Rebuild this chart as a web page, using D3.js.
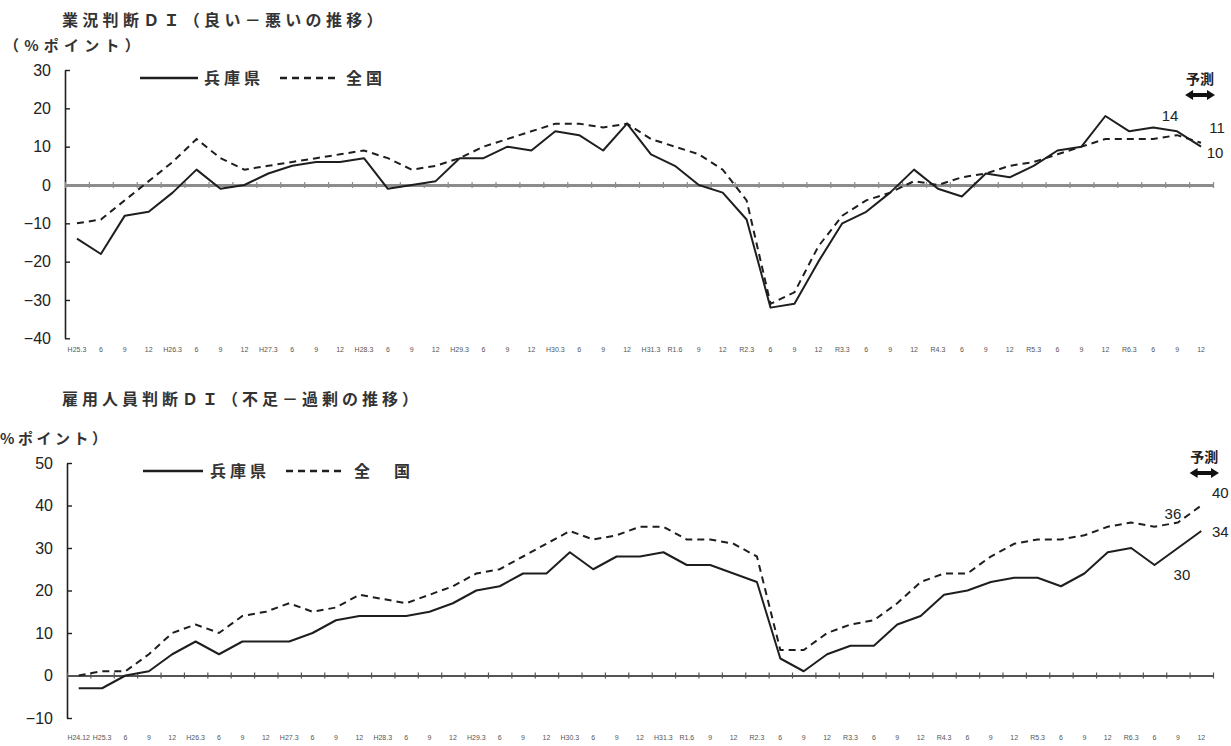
<!DOCTYPE html>
<html><head><meta charset="utf-8">
<script src="https://cdn.jsdelivr.net/npm/d3@7"></script>
<style>
body{margin:0;background:#fff;}
svg{display:block;}
</style></head><body>
<svg id="chart" width="1231" height="746"></svg>
<script>
// ---- data ----
const categoriesTop = ["H25.3","6","9","12","H26.3","6","9","12","H27.3","6","9","12",
  "H28.3","6","9","12","H29.3","6","9","12","H30.3","6","9","12",
  "H31.3","R1.6","9","12","R2.3","6","9","12","R3.3","6","9","12",
  "R4.3","6","9","12","R5.3","6","9","12","R6.3","6","9","12"];
const categoriesBottom = ["H24.12","H25.3","6","9","12","H26.3","6","9","12","H27.3","6","9","12",
  "H28.3","6","9","12","H29.3","6","9","12","H30.3","6","9","12",
  "H31.3","R1.6","9","12","R2.3","6","9","12","R3.3","6","9","12",
  "R4.3","6","9","12","R5.3","6","9","12","R6.3","6","9","12"];
const bizHyogo = [-14,-18,-8,-7,-2,4,-1,0,3,5, 6,6,7,-1,0,1,7,7,10,9,
  14,13,9,16,8,5,0,-2,-9,-32, -31,-20,-10,-7,-2,4,-1,-3,3,2, 5,9,10,18,14,15,14,10];
const bizNational = [-10,-9,-4,1,6,12,7,4,5,6, 7,8,9,7,4,5,7,10,12,14,
  16,16,15,16,12,10,8,4,-4,-31, -28,-16,-8,-4,-2,1,0,2,3,5, 6,8,10,12,12,12,13,11];
const empHyogo = [-3,-3,0,1,5,8,5,8,8,8, 10,13,14,14,14,15,17,20,21,24,
  24,29,25,28,28,29,26,26,24,22, 4,1,5,7,7,12,14,19,20,22, 23,23,21,24,29,30,26,30,34];
const empNational = [0,1,1,5,10,12,10,14,15,17, 15,16,19,18,17,19,21,24,25,28,
  31,34,32,33,35,35,32,32,31,28, 6,6,10,12,13,17,22,24,24,28, 31,32,32,33,35,36,35,36,40];
const bizTicks = [30,20,10,0,-10,-20,-30,-40];
const empTicks = [50,40,30,20,10,0,-10];
const legendNamesTop = ["兵庫県","全国"];
const legendNamesBottom = ["兵庫県","全　国"];

// ---- drawing ----
const svg = d3.select("#chart");
const JP = "'Noto Sans CJK JP','Noto Sans CJK SC',sans-serif";
const NUM = "'Liberation Sans Narrow','Liberation Sans',Arial,sans-serif";
const INK = "#1e1e1e";

function panel(c) {
  const cats = c.categories;
  const g = svg.append("g");
  const x = d3.scaleBand().domain(d3.range(cats.length)).range([c.left, c.right]);
  const xb = d3.scaleLinear().domain([0, cats.length]).range([c.left, c.right]);
  const cx = i => x(i) + x.bandwidth() / 2;
  const y = d3.scaleLinear().domain(c.domain).range(c.range);

  // title & unit
  g.append("text").attr("x", c.titleX).attr("y", c.titleY).text(c.title)
    .attr("font-family", JP).attr("font-size", 16).attr("font-weight", 700)
    .attr("letter-spacing", c.titleLS).attr("fill", "#333");
  g.append("text").attr("x", c.unitX).attr("y", c.unitY).text(c.unit)
    .attr("font-family", JP).attr("font-size", 15).attr("font-weight", 700)
    .attr("letter-spacing", c.unitLS).attr("fill", "#333");

  // y axis
  const ya = g.append("g").attr("transform", `translate(${c.left},0)`)
    .call(d3.axisLeft(y).tickValues(c.ticks).tickSizeInner(-5).tickSizeOuter(0).tickPadding(c.tickPad));
  ya.select(".domain").attr("stroke", INK).attr("stroke-width", 1.6);
  ya.selectAll(".tick line").attr("stroke", INK).attr("stroke-width", 1.4);
  ya.selectAll(".tick text").attr("font-family", NUM).attr("font-size", 16).attr("fill", "#222");

  // zero line with category ticks
  const zg = g.append("g").attr("transform", `translate(0,${y(0)})`)
    .call(d3.axisBottom(xb).tickValues(d3.range(cats.length + 1)).tickSizeInner(3).tickSizeOuter(0).tickFormat(""));
  zg.select(".domain").attr("stroke", c.zeroColor).attr("stroke-width", c.zeroWidth);
  zg.selectAll(".tick line").attr("stroke", c.zeroColor).attr("stroke-width", 1.2).attr("y1", -3).attr("y2", 3);

  // category labels at bottom
  const xa = g.append("g").attr("transform", `translate(0,${c.labelY})`)
    .call(d3.axisBottom(x).tickSize(0).tickPadding(0).tickFormat(i => cats[i]));
  xa.select(".domain").remove();
  xa.selectAll(".tick text").attr("font-family", NUM).attr("font-size", 7).attr("fill", "#555");

  // series lines
  const line = d3.line().x((d, i) => cx(i)).y(d => y(d));
  g.append("path").datum(c.national).attr("d", line).attr("fill", "none")
    .attr("stroke", INK).attr("stroke-width", 2).attr("stroke-dasharray", "7,5");
  g.append("path").datum(c.hyogo).attr("d", line).attr("fill", "none")
    .attr("stroke", INK).attr("stroke-width", 2).attr("stroke-linejoin", "round");

  // legend
  const L = c.legend;
  g.append("line").attr("x1", L.x1).attr("x2", L.x1 + L.len).attr("y1", L.y).attr("y2", L.y)
    .attr("stroke", INK).attr("stroke-width", 2.4);
  g.append("text").attr("x", L.t1).attr("y", L.y + 6).text(c.names[0])
    .attr("font-family", JP).attr("font-size", 16).attr("font-weight", 700).attr("letter-spacing", 4).attr("fill", "#333");
  g.append("line").attr("x1", L.x2).attr("x2", L.x2 + L.len).attr("y1", L.y).attr("y2", L.y)
    .attr("stroke", INK).attr("stroke-width", 2.4).attr("stroke-dasharray", "7,5");
  g.append("text").attr("x", L.t2).attr("y", L.y + 6).text(c.names[1])
    .attr("font-family", JP).attr("font-size", 16).attr("font-weight", 700).attr("letter-spacing", 4).attr("fill", "#333");

  // forecast marker over the last category
  const last = cats.length - 1;
  const fx0 = x(last) - 4 + c.fcShift, fx1 = x(last) + x.bandwidth() + 2 + c.fcShift;
  g.append("text").attr("x", (fx0 + fx1) / 2).attr("y", c.fcY).attr("text-anchor", "middle")
    .text("予測").attr("font-family", JP).attr("font-size", 14).attr("font-weight", 700).attr("fill", "#222");
  const ay = c.fcY + 11;
  g.append("line").attr("x1", fx0 + 6).attr("x2", fx1 - 6).attr("y1", ay).attr("y2", ay)
    .attr("stroke", "#111").attr("stroke-width", 4);
  g.append("path").attr("d", `M${fx0},${ay}L${fx0 + 8},${ay - 5}L${fx0 + 8},${ay + 5}Z M${fx1},${ay}L${fx1 - 8},${ay - 5}L${fx1 - 8},${ay + 5}Z`)
    .attr("fill", "#111");

  // value labels
  c.valueLabels.forEach(v => {
    const arr = v.s === "h" ? c.hyogo : c.national;
    g.append("text").attr("x", cx(v.i) + v.dx).attr("y", y(arr[v.i]) + v.dy)
      .attr("text-anchor", "middle").attr("dominant-baseline", "central")
      .text(arr[v.i]).attr("font-family", NUM).attr("font-size", 15).attr("fill", "#222");
  });
}

panel({
  categories: categoriesTop,
  title: "業況判断ＤＩ（良い－悪いの推移）", titleX: 62, titleY: 26, titleLS: 4.3,
  unit: "（%ポイント）", unitX: 4, unitY: 51, unitLS: 5.2,
  left: 65, right: 1213, domain: [-40, 30], range: [338.3, 70], ticks: bizTicks, tickPad: 14,
  zeroColor: "#8c8c8c", zeroWidth: 3, labelY: 347,
  hyogo: bizHyogo, national: bizNational, names: legendNamesTop,
  legend: {x1: 140, len: 58, t1: 204, x2: 280, t2: 346, y: 78},
  fcY: 84, fcShift: 0,
  valueLabels: [{s: "h", i: 46, dx: -7, dy: -16}, {s: "n", i: 47, dx: 16, dy: -15}, {s: "h", i: 47, dx: 14, dy: 6}]
});

panel({
  categories: categoriesBottom,
  title: "雇用人員判断ＤＩ（不足－過剰の推移）", titleX: 62, titleY: 405, titleLS: 4,
  unit: "%ポイント）", unitX: 0, unitY: 444, unitLS: 3.5,
  left: 67, right: 1213, domain: [-10, 50], range: [718, 463], ticks: empTicks, tickPad: 14,
  zeroColor: "#555", zeroWidth: 2, labelY: 735,
  hyogo: empHyogo, national: empNational, names: legendNamesBottom,
  legend: {x1: 143, len: 60, t1: 210, x2: 286, t2: 354, y: 471},
  fcY: 462, fcShift: 4,
  valueLabels: [{s: "n", i: 48, dx: 19, dy: -13}, {s: "n", i: 47, dx: -5, dy: -9}, {s: "h", i: 48, dx: 19, dy: 0}, {s: "h", i: 47, dx: 4, dy: 26}]
});
</script>
</body></html>
